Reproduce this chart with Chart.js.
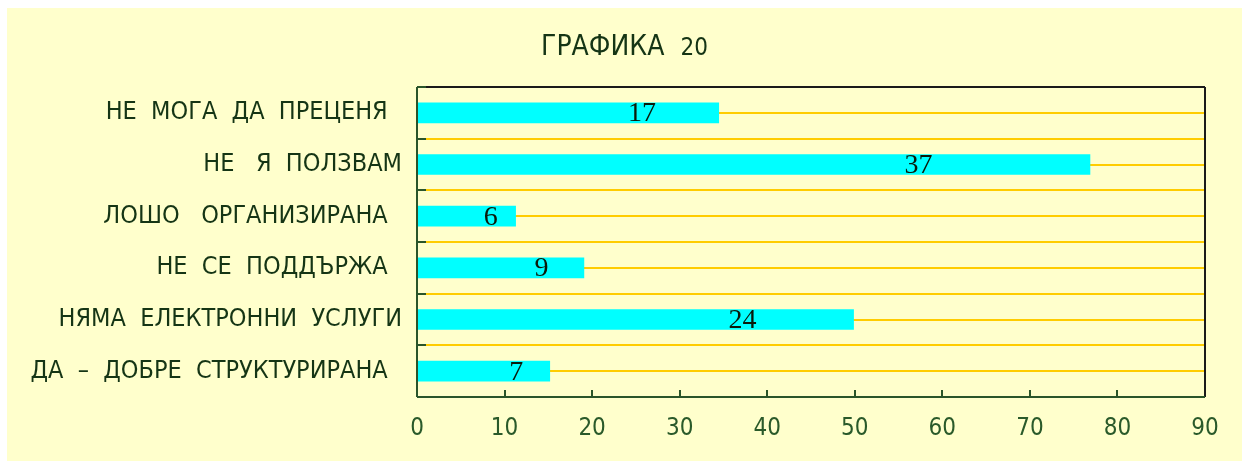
<!DOCTYPE html>
<html lang="bg">
<head>
<meta charset="utf-8">
<title>ГРАФИКА 20</title>
<script src="https://cdn.jsdelivr.net/npm/chart.js"></script>
<style>
  html, body { margin: 0; padding: 0; background: #fff; }
  .chart-wrap {
    position: absolute; left: 7px; top: 8px;
    width: 1235px; height: 453px; background: #ffffcc;
  }
</style>
</head>
<body>
<div class="chart-wrap"><canvas id="ch20"></canvas></div>
<script>
// данни, отчетени от графиката
const categories = [
  'НЕ  МОГА  ДА  ПРЕЦЕНЯ  ',
  'НЕ   Я  ПОЛЗВАМ',
  'ЛОШО   ОРГАНИЗИРАНА  ',
  'НЕ  СЕ  ПОДДЪРЖА  ',
  'НЯМА  ЕЛЕКТРОННИ  УСЛУГИ',
  'ДА  –  ДОБРЕ  СТРУКТУРИРАНА  '
];
const barValues = [34.5, 76.9, 11.3, 19.1, 49.9, 15.2];
const countLabels = ['17', '37', '6', '9', '24', '7'];
const titleWord = 'ГРАФИКА';
const titleNum = '20';
const xMin = 0, xMax = 90, xStep = 10;

(function() {
'use strict';

const GREEN = '#153515';
const TICKGREEN = '#2a5a2a';
const GOLD = '#ffcc00';
const NARROW = '"Liberation Sans Narrow", "DejaVu Sans Condensed", sans-serif';

function line(ctx, x1, y1, x2, y2, color, w) {
  ctx.save();
  ctx.strokeStyle = color;
  ctx.lineWidth = w;
  ctx.beginPath();
  ctx.moveTo(x1, y1);
  ctx.lineTo(x2, y2);
  ctx.stroke();
  ctx.restore();
}

// златни линии през средата на всяка категория
const centerLines = {
  id: 'centerLines',
  beforeDatasetsDraw(chart) {
    const a = chart.chartArea, y = chart.scales.y, ctx = chart.ctx;
    categories.forEach((c, i) => {
      const py = Math.round(y.getPixelForValue(i));
      line(ctx, a.left, py, a.right, py, GOLD, 2);
    });
  }
};

// рамка, вътрешни чертички, числата върху лентите и заглавието
const frame = {
  id: 'frame',
  afterDraw(chart) {
    const a = chart.chartArea, ctx = chart.ctx;
    const x = chart.scales.x, y = chart.scales.y;

    line(ctx, a.left, a.top, a.right, a.top, '#1a1a1a', 2);
    line(ctx, a.right, a.top, a.right, a.bottom, '#1a1a1a', 2);
    line(ctx, a.left, a.bottom, a.right, a.bottom, '#2a552a', 2);
    line(ctx, a.left, a.top, a.left, a.bottom, '#2a552a', 2);

    x.ticks.forEach(t => {
      if (t.value <= xMin || t.value >= xMax) return;
      const px = Math.round(x.getPixelForValue(t.value));
      line(ctx, px, a.bottom, px, a.bottom - 7, '#2a552a', 2);
    });
    for (let i = 0; i <= categories.length; i++) {
      const py = Math.round(i === 0 ? a.top : i === categories.length ? a.bottom :
        (y.getPixelForValue(i - 1) + y.getPixelForValue(i)) / 2);
      line(ctx, a.left, py, a.left + 9, py, '#2a552a', 2);
    }

    const meta = chart.getDatasetMeta(0);
    ctx.save();
    ctx.font = '28px "Liberation Serif", "DejaVu Serif", serif';
    ctx.fillStyle = '#0a1a0a';
    ctx.textAlign = 'center';
    ctx.textBaseline = 'middle';
    meta.data.forEach((bar, i) => {
      const px = bar.base + (bar.x - bar.base) * 0.745;
      ctx.fillText(countLabels[i], px, bar.y + 1);
    });
    ctx.restore();

    ctx.save();
    const f1 = '28px ' + NARROW, f2 = '24px ' + NARROW;
    ctx.font = f1;
    const w1 = ctx.measureText(titleWord).width;
    ctx.font = f2;
    const w2 = ctx.measureText(titleNum).width;
    const gap = 16;
    const tx = chart.width / 2 - (w1 + gap + w2) / 2;
    ctx.fillStyle = GREEN;
    ctx.textBaseline = 'alphabetic';
    ctx.font = f1;
    ctx.fillText(titleWord, tx, 47);
    ctx.font = f2;
    ctx.fillText(titleNum, tx + w1 + gap, 47);
    ctx.restore();
  }
};

function draw() {
  const canvas = document.getElementById('ch20');
  new Chart(canvas.getContext('2d'), {
    type: 'bar',
    data: {
      labels: categories,
      datasets: [{
        data: barValues,
        backgroundColor: '#00ffff',
        borderWidth: 0,
        barPercentage: 0.4,
        categoryPercentage: 1
      }]
    },
    options: {
      indexAxis: 'y',
      responsive: true,
      maintainAspectRatio: false,
      animation: false,
      layout: {padding: {top: 79, right: 37, bottom: 0, left: 0}},
      plugins: {
        legend: {display: false},
        title: {display: false},
        tooltip: {enabled: false}
      },
      scales: {
        x: {
          min: xMin,
          max: xMax,
          afterFit(s) { s.height = 64; },
          grid: {display: false, drawTicks: false},
          border: {display: false},
          ticks: {
            stepSize: xStep,
            maxRotation: 0,
            padding: 17,
            color: TICKGREEN,
            font: {family: NARROW, size: 24}
          }
        },
        y: {
          afterFit(s) { s.width = 410; },
          offset: true,
          grid: {color: GOLD, lineWidth: 2, offset: true, drawTicks: false},
          border: {display: false},
          ticks: {
            padding: 15,
            color: GREEN,
            font: {family: NARROW, size: 25}
          }
        }
      }
    },
    plugins: [centerLines, frame]
  });
}

if (document.readyState === 'loading') {
  document.addEventListener('DOMContentLoaded', draw);
} else {
  draw();
}
})();
</script>
</body>
</html>
